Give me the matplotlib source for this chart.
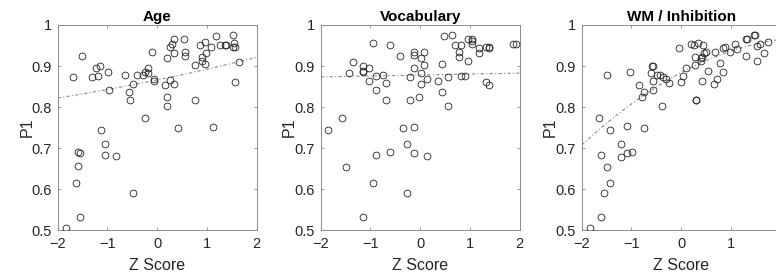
import numpy as np
import matplotlib
matplotlib.use("Agg")
import matplotlib.pyplot as plt

plt.rcParams['font.family'] = ['Liberation Sans', 'DejaVu Sans']

############################################################################################################
# values
############################################################################################################

age_z = [-1.83, -1.69, -1.51, -1.59, -1.55, -1.60, -1.64, -1.56, -1.32, -1.23, -1.15, -1.19, -1.14,
         -0.99, -0.97, -1.05, -1.05, -0.82, -0.65, -0.57, -0.55, -0.48, -0.41, -0.48, -0.29, -0.24,
         -0.19, -0.19, -0.24, -0.11, -0.07, -0.07, 0.15, 0.19, 0.19, 0.20, 0.25, 0.33, 0.25, 0.29,
         0.33, 0.33, 0.41, 0.53, 0.56, 0.56, 0.75, 0.75, 0.87, 0.91, 0.91, 0.96, 0.97, 0.99, 1.08,
         1.13, 1.18, 1.26, 1.37, 1.39, 1.52, 1.54, 1.53, 1.56, 1.56, 1.65]
age_p1 = [0.504, 0.872, 0.925, 0.691, 0.687, 0.655, 0.615, 0.531, 0.872, 0.896, 0.900, 0.876, 0.744,
          0.886, 0.841, 0.710, 0.683, 0.680, 0.877, 0.836, 0.817, 0.856, 0.878, 0.591, 0.878, 0.886,
          0.896, 0.883, 0.774, 0.933, 0.868, 0.863, 0.854, 0.825, 0.920, 0.803, 0.865, 0.857, 0.947,
          0.953, 0.965, 0.931, 0.750, 0.966, 0.933, 0.924, 0.902, 0.817, 0.951, 0.923, 0.912, 0.959,
          0.905, 0.931, 0.946, 0.752, 0.974, 0.950, 0.951, 0.951, 0.976, 0.955, 0.947, 0.947, 0.860,
          0.910]

vocab_z = [-1.85, -1.57, -1.50, -1.43, -1.36, -1.16, -1.16, -1.15, -1.02, -0.95, -1.02, -0.89, -0.89,
           -0.95, -1.16, -0.89, -0.75, -0.68, -0.68, -0.61, -0.61, -0.41, -0.34, -0.26, -0.26, -0.20,
           -0.20, -0.13, -0.13, -0.13, -0.13, -0.13, -0.02, 0.01, 0.01, 0.01, 0.08, 0.08, 0.14, 0.14,
           0.35, 0.43, 0.43, 0.48, 0.56, 0.56, 0.63, 0.70, 0.77, 0.77, 0.83, 0.83, 0.90, 0.97, 0.97,
           1.04, 1.04, 1.04, 1.18, 1.18, 1.32, 1.38, 1.39, 1.32, 1.38, 1.86, 1.93]
vocab_p1 = [0.744, 0.774, 0.654, 0.882, 0.910, 0.900, 0.888, 0.886, 0.896, 0.955, 0.864, 0.876, 0.841,
            0.615, 0.531, 0.683, 0.878, 0.858, 0.817, 0.952, 0.691, 0.924, 0.750, 0.710, 0.591, 0.872,
            0.817, 0.933, 0.926, 0.896, 0.752, 0.687, 0.825, 0.884, 0.919, 0.856, 0.933, 0.902, 0.868,
            0.680, 0.864, 0.906, 0.837, 0.974, 0.872, 0.803, 0.976, 0.950, 0.935, 0.923, 0.951, 0.876,
            0.876, 0.912, 0.967, 0.967, 0.962, 0.953, 0.943, 0.931, 0.947, 0.947, 0.945, 0.862, 0.854,
            0.954, 0.954]

wm_z = [-1.84, -1.66, -1.61, -1.61, -1.56, -1.50, -1.50, -1.44, -1.44, -1.21, -1.21, -1.09, -1.08,
        -1.02, -0.99, -0.85, -0.79, -0.74, -0.74, -0.58, -0.57, -0.61, -0.57, -0.57, -0.49, -0.42,
        -0.37, -0.31, -0.39, -0.24, -0.04, 0.00, 0.03, 0.10, 0.19, 0.26, 0.28, 0.28, 0.29, 0.30,
        0.33, 0.39, 0.42, 0.45, 0.50, 0.43, 0.40, 0.42, 0.53, 0.65, 0.69, 0.73, 0.78, 0.84, 0.89,
        0.84, 0.99, 1.09, 1.12, 1.30, 1.31, 1.33, 1.46, 1.48, 1.52, 1.58, 1.52, 1.66, 1.75]
wm_p1 = [0.504, 0.774, 0.683, 0.531, 0.591, 0.654, 0.878, 0.744, 0.615, 0.710, 0.679, 0.687, 0.754,
         0.886, 0.691, 0.854, 0.825, 0.837, 0.750, 0.899, 0.901, 0.882, 0.864, 0.841, 0.878, 0.877,
         0.874, 0.868, 0.803, 0.858, 0.945, 0.860, 0.876, 0.896, 0.953, 0.951, 0.923, 0.902, 0.817,
         0.818, 0.955, 0.919, 0.923, 0.931, 0.933, 0.951, 0.911, 0.864, 0.889, 0.855, 0.933, 0.869,
         0.907, 0.945, 0.947, 0.885, 0.933, 0.953, 0.941, 0.924, 0.966, 0.966, 0.975, 0.975, 0.949,
         0.953, 0.913, 0.931, 0.959]

# fitted trend lines: p1 = c0 + c1*z + c2*z^2
age_fit = [0.866, 0.0248, 0.0014]
vocab_fit = [0.878, 0.0023, 0.0]
wm_fit = [0.884, 0.0645, -0.012]

panel_titles = ["Age", "Vocabulary", "WM / Inhibition"]

############################################################################################################

def draw_panel(fig, left, z, p1, fit, title):
    ax = fig.add_axes([left, 0.1636, 0.2564, 0.7455])
    ax.plot(z, p1, 'o', mfc='none', mec='#222222', ms=4.9, mew=0.6, zorder=3)

    z_line = np.linspace(-2, 2, 200)
    p_line = fit[0] + fit[1] * z_line + fit[2] * z_line ** 2
    ax.plot(z_line, p_line, color='#8c8c8c', lw=0.8, linestyle=(0, (3, 2, 1, 2)), zorder=2)

    ax.set_xlim(-2, 2)
    ax.set_ylim(0.5, 1)
    ax.set_xticks([-2, -1, 0, 1, 2])
    ax.set_yticks([0.5, 0.6, 0.7, 0.8, 0.9, 1.0])
    ax.set_yticklabels(["0.5", "0.6", "0.7", "0.8", "0.9", "1"])
    ax.tick_params(direction='in', length=2.5, width=0.6, color='#8a8a8a',
                   labelsize=10.5, labelcolor='#262626', top=True, right=True)
    ax.tick_params(axis='x', pad=5)
    ax.tick_params(axis='y', pad=4)
    for spine in ax.spines.values():
        spine.set_color('#8a8a8a')
        spine.set_linewidth(0.7)

    ax.set_title(title, fontsize=11, fontweight='bold', pad=3, color='black')
    ax.set_xlabel("Z Score", fontsize=11.5, color='#262626')
    ax.set_ylabel("P1", fontsize=11.5, color='#262626')
    ax.xaxis.set_label_coords(0.5, -0.135)
    ax.yaxis.set_label_coords(-0.118, 0.5)
    return ax


def make_figure():
    fig = plt.figure(figsize=(7.76, 2.75), dpi=100, facecolor='w')
    lefts = [0.0744, 0.4133, 0.7496]
    data = [(age_z, age_p1, age_fit), (vocab_z, vocab_p1, vocab_fit), (wm_z, wm_p1, wm_fit)]
    for index, (z, p1, fit) in enumerate(data):
        draw_panel(fig, lefts[index], z, p1, fit, panel_titles[index])
    fig.savefig("out.png", dpi=100)
    plt.close(fig)


if __name__ == "__main__":
    make_figure()
